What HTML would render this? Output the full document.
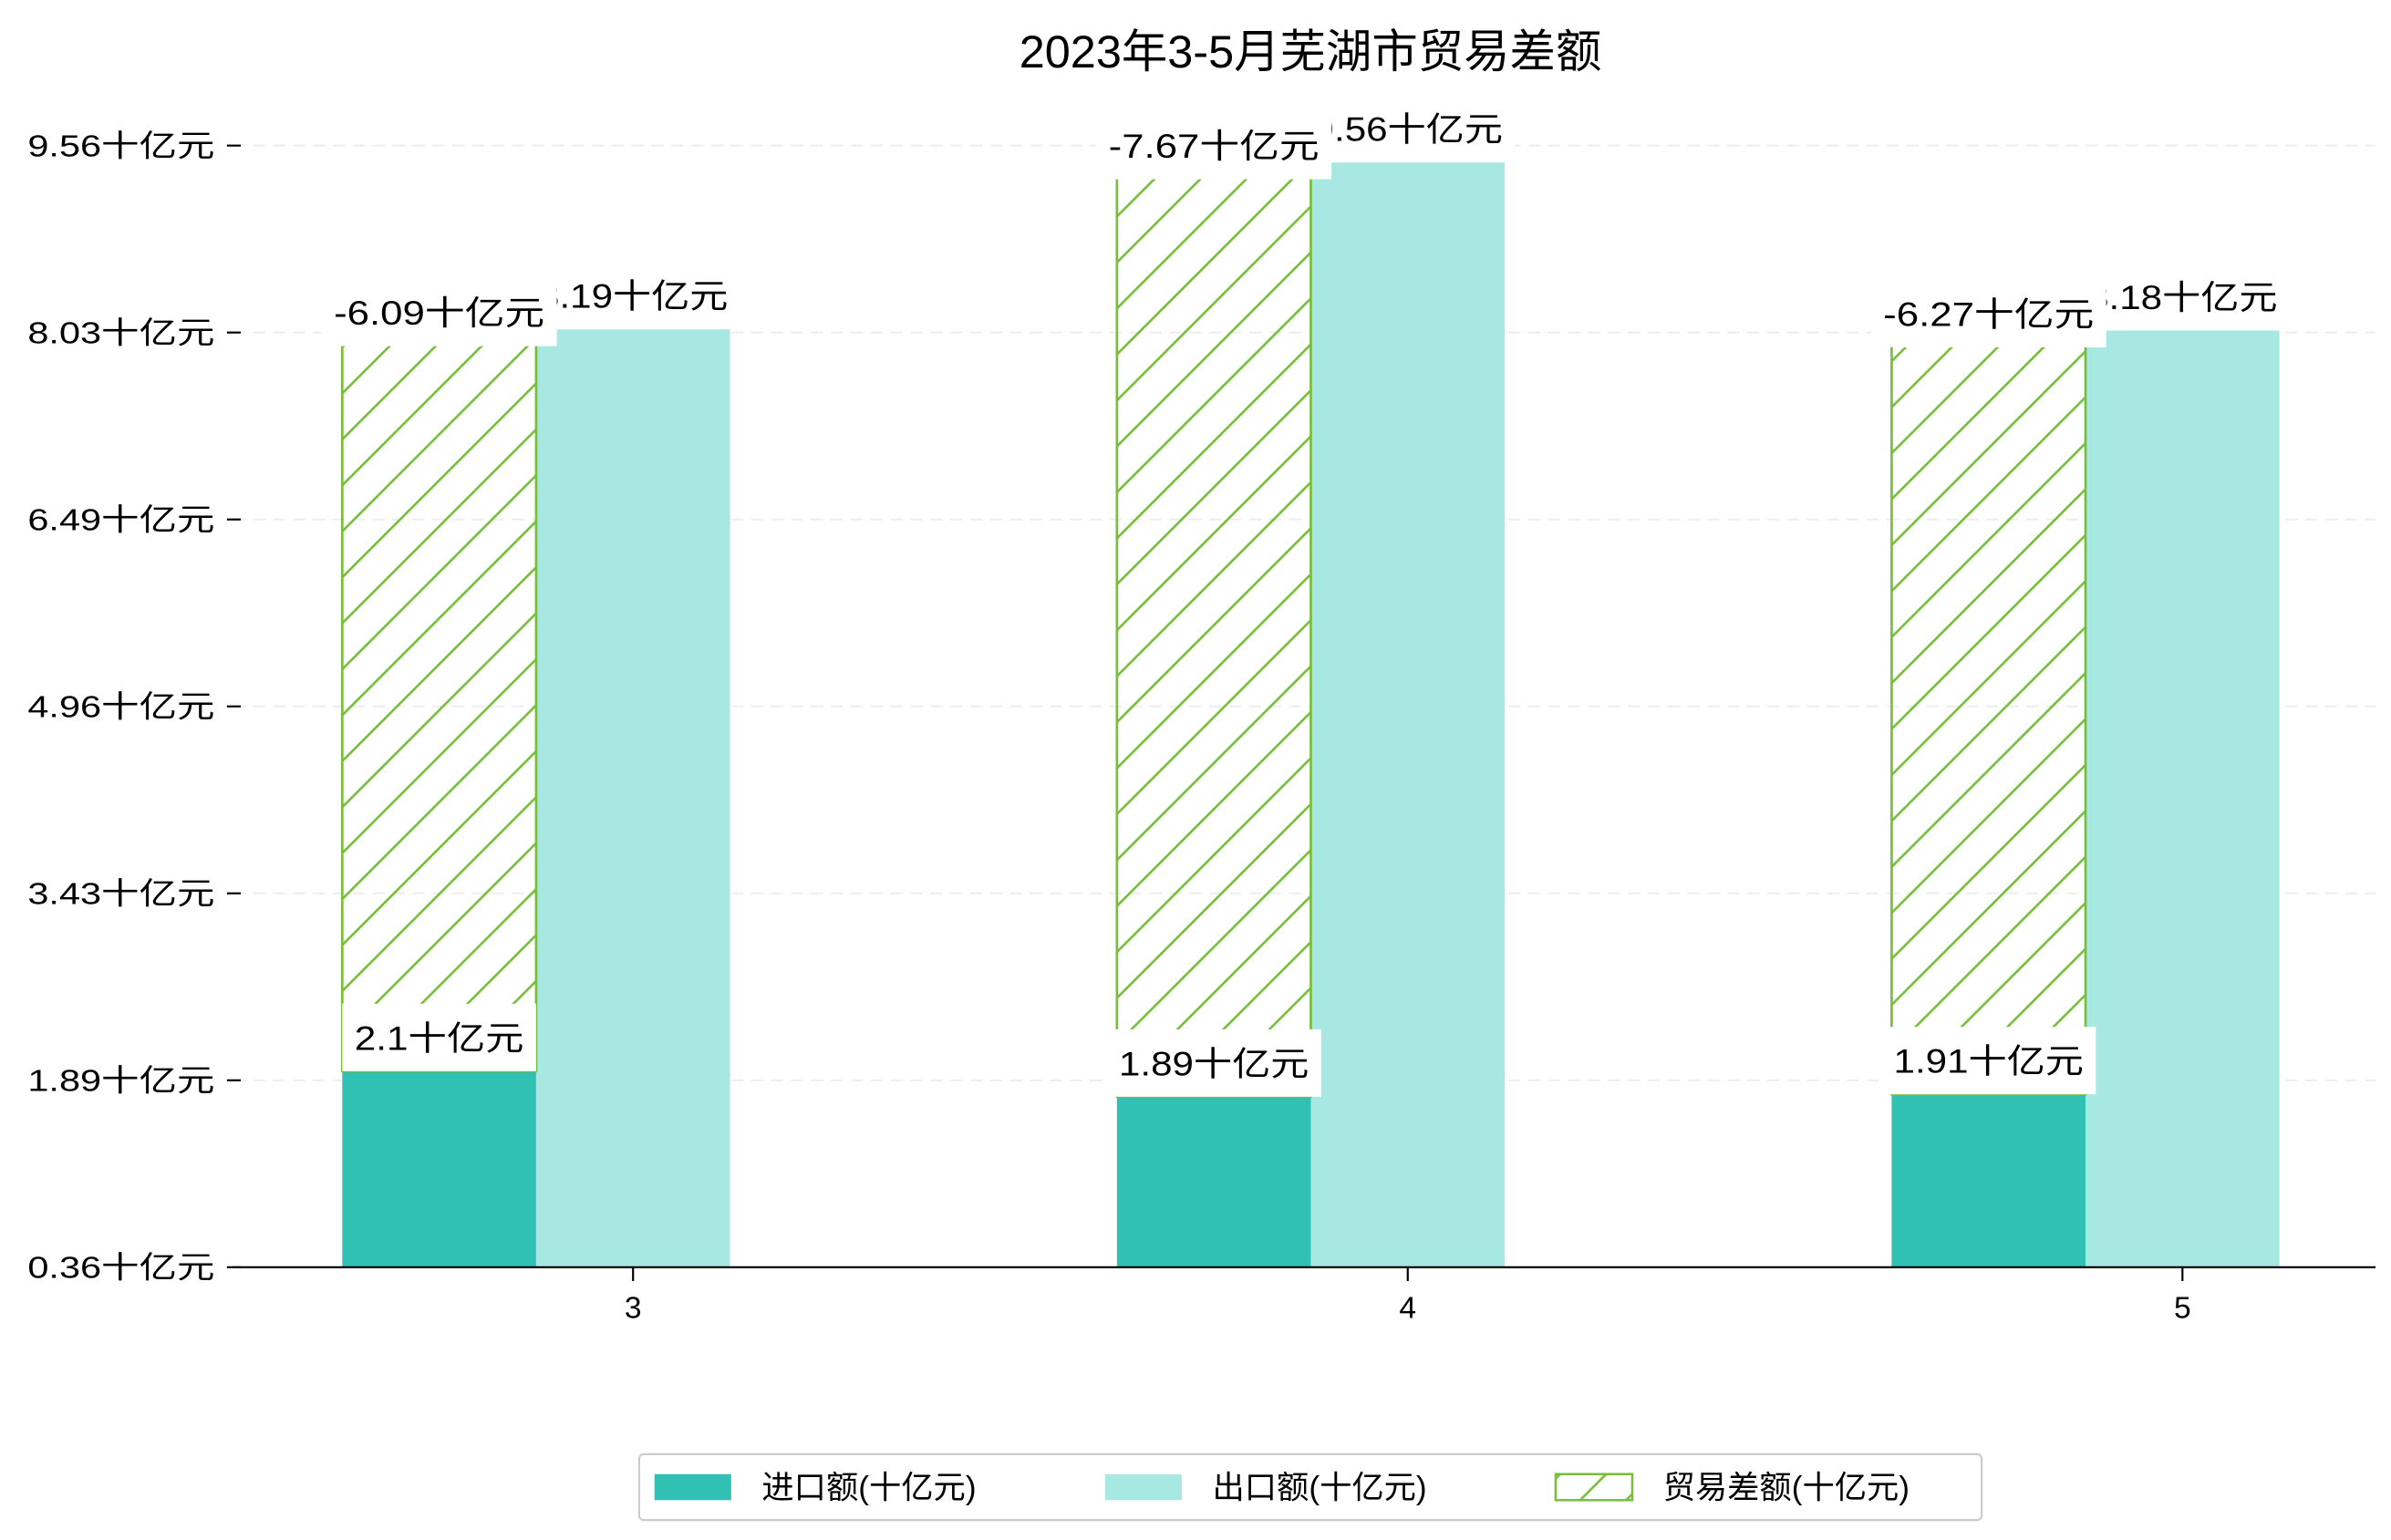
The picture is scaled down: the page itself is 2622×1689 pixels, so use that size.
<!DOCTYPE html>
<html><head><meta charset="utf-8"><style>
html,body{margin:0;padding:0;background:#fff}
svg{display:block}
text{font-family:"Liberation Sans","Noto Sans CJK SC",sans-serif;fill:#000}
</style></head><body>
<svg id="chart" width="2622" height="1689" viewBox="0 0 1560 1005" xmlns="http://www.w3.org/2000/svg">
<defs>
<pattern id="hatch" patternUnits="userSpaceOnUse" width="30" height="30">
<path d="M-5,5 L5,-5 M0,30 L30,0 M25,35 L35,25" stroke="#78be3c" stroke-width="1.6"/>
</pattern>
</defs>
<text x="855" y="44" font-size="30" text-anchor="middle">2023年3-5月芜湖市贸易差额</text>
<g id="grid"></g>
<g id="yaxis"></g>
<g id="bars"></g>
<g id="labels"></g>
<line x1="152" y1="827" x2="1550" y2="827" stroke="#000" stroke-width="1.3"/>
<g id="xaxis"></g>
<g>
<rect x="417" y="949" width="876" height="43" fill="#fff" stroke="#ccc" stroke-width="1.3" rx="3"/>
<rect x="427" y="962" width="50" height="17" fill="#30c0b4"/>
<text x="497" y="978" font-size="21">进口额(十亿元)</text>
<rect x="721" y="962" width="50" height="17" fill="#a8e8e2"/>
<text x="791" y="978" font-size="21">出口额(十亿元)</text>
<rect x="1015" y="962" width="50" height="17" fill="url(#hatch)" stroke="#78be3c" stroke-width="1.5"/>
<text x="1085" y="978" font-size="21">贸易差额(十亿元)</text>
</g>
</svg>
<script>
const categories = ["3", "4", "5"];
const importValues = [2.1, 1.89, 1.91];
const exportValues = [8.19, 9.56, 8.18];
const balanceValues = [-6.09, -7.67, -6.27];
const yTickLabels = ["0.36", "1.89", "3.43", "4.96", "6.49", "8.03", "9.56"];

const NS = "http://www.w3.org/2000/svg";
const yZero = 866, yPerUnit = 79.5;
function y(v){ return yZero - v * yPerUnit; }
const axisBottom = 827, axisTopTick = 95;
function x(i){ return 413 + i * 505.5; }
const barW = 126.5;
function mk(tag, attrs, parent){
  const e = document.createElementNS(NS, tag);
  for (const k in attrs) e.setAttribute(k, attrs[k]);
  parent.appendChild(e);
  return e;
}
const grid = document.getElementById('grid');
const yaxis = document.getElementById('yaxis');
yTickLabels.forEach((lab, i) => {
  const ty = axisBottom - i * (axisBottom - axisTopTick) / (yTickLabels.length - 1);
  if (i > 0) {
    const g = mk('line', {x1:152, x2:1550, y1:ty, y2:ty, stroke:'#eee', 'stroke-dasharray':'8,5', 'stroke-width':1.2}, grid);
    
    
  }
  const t = mk('line', {x1:148, x2:157, y1:ty, y2:ty, stroke:'#000', 'stroke-width':1.3}, yaxis);
  
  
  const tx = mk('text', {x:18, y:ty + 7, 'font-size':20, textLength:122, lengthAdjust:'spacingAndGlyphs'}, yaxis);
  tx.textContent = lab + '十亿元';
  
  
});
const bars = document.getElementById('bars');
const labels = document.getElementById('labels');
const xaxis = document.getElementById('xaxis');
function label(cx, cy, txt, w){
  const r = mk('rect', {x:cx - w/2 - 8, y:cy - 22, width:w + 16, height:44, fill:'#fff'}, labels);
  
  
  const t = mk('text', {x:cx, y:cy + 8, 'font-size':22, 'text-anchor':'middle', textLength:w, lengthAdjust:'spacingAndGlyphs'}, labels);
  t.textContent = txt;
  
  
}
categories.forEach((c, i) => {
  const cx = x(i);
  const ix = cx - 1.5 * barW, ex = cx - 0.5 * barW;
  const imp = mk('rect', {x:ix, y:y(importValues[i]), width:barW, height:axisBottom - y(importValues[i]), fill:'#30c0b4'}, bars);
  
  
  const exp = mk('rect', {x:ex, y:y(exportValues[i]), width:barW, height:axisBottom - y(exportValues[i]), fill:'#a8e8e2'}, bars);
  
  
  const bTop = y(importValues[i] - balanceValues[i]);
  const bBot = y(importValues[i]);
  const bal = mk('rect', {x:ix, y:bTop, width:barW, height:bBot - bTop, fill:'url(#hatch)', stroke:'#78be3c', 'stroke-width':1.6}, bars);
  
  
  const tk = mk('line', {x1:cx, x2:cx, y1:827, y2:836, stroke:'#000', 'stroke-width':1.3}, xaxis);
  
  
  const tl = mk('text', {x:cx, y:860, 'font-size':20, 'text-anchor':'middle'}, xaxis);
  tl.textContent = c;
  
  
  const fmt = v => String(v);
  const wOf = s => s.length * 13.5 + 70;
  label(ix + barW/2, y(importValues[i]) - 22, fmt(importValues[i]) + '十亿元', wOf(fmt(importValues[i])));
  label(ex + barW/2, y(exportValues[i]) - 22, fmt(exportValues[i]) + '十亿元', wOf(fmt(exportValues[i])));
  label(ix + barW/2, bTop - 11, fmt(balanceValues[i]) + '十亿元', wOf(fmt(balanceValues[i])));
});
</script>
</body></html>
